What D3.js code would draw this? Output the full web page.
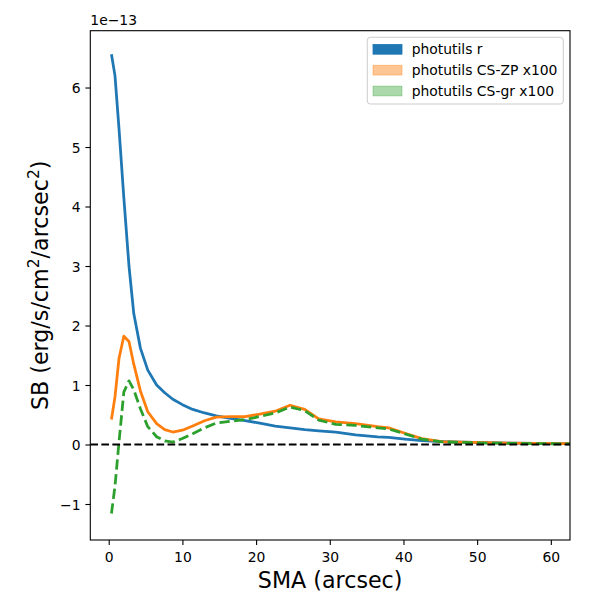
<!DOCTYPE html>
<html><head><meta charset="utf-8">
<script src="https://cdn.jsdelivr.net/npm/d3@7"></script>
<style>body{margin:0;background:#fff}svg{font-family:"DejaVu Sans",sans-serif}</style>
</head><body><svg id="c" width="600" height="600"></svg>
<script>
// SB values in units of 1e-13 erg/s/cm^2/arcsec^2
const sma = [0.37,0.85,1.4,2.05,2.75,3.4,4.3,5.3,6.5,7.6,8.7,10.0,11.4,13.0,14.6,16.5,18.5,20.5,22.6,24.6,26.6,28.5,30.8,33.5,36.5,38.0,40.2,42.5,45.2,48,51,54.5,58,62.6];
const sbR = [6.56,6.2,5.3,4.15,3.0,2.2,1.62,1.25,1.0,0.87,0.76,0.67,0.59,0.53,0.48,0.44,0.40,0.36,0.31,0.28,0.25,0.23,0.21,0.16,0.13,0.12,0.09,0.065,0.05,0.04,0.03,0.025,0.02,0.015];
const sbZP = [0.42,0.8,1.45,1.82,1.73,1.35,0.9,0.55,0.35,0.25,0.21,0.24,0.31,0.4,0.46,0.47,0.47,0.51,0.56,0.66,0.59,0.43,0.38,0.35,0.30,0.28,0.19,0.10,0.05,0.04,0.03,0.025,0.02,0.015];
const sbGR = [-1.16,-0.7,0.05,0.88,1.07,0.92,0.6,0.3,0.13,0.06,0.04,0.1,0.18,0.28,0.36,0.39,0.42,0.47,0.53,0.63,0.57,0.41,0.34,0.32,0.28,0.26,0.18,0.09,0.045,0.035,0.025,0.02,0.015,0.01];
const xTicks = [0,10,20,30,40,50,60];
const yTicks = [-1,0,1,2,3,4,5,6];
const legendLabels = ["photutils r","photutils CS-ZP x100","photutils CS-gr x100"];

const L=90.3,R=570,T=30.7,B=540;
const svg=d3.select("#c");
const x=d3.scaleLinear().domain([-2.5,62.6]).range([L,R]);
const y=d3.scaleLinear().domain([-1.605,6.955]).range([B,T]);

svg.append("defs").append("clipPath").attr("id","clip").append("rect")
  .attr("x",L).attr("y",T).attr("width",R-L).attr("height",B-T);
const g=svg.append("g").attr("clip-path","url(#clip)");
const line=(vals)=>d3.line().x((d,i)=>x(sma[i])).y(d=>y(d))(vals);

g.append("path").attr("d",line(sbR)).attr("fill","none").attr("stroke","#1f77b4").attr("stroke-width",2.78).attr("stroke-linejoin","round");
g.append("path").attr("d",line(sbZP)).attr("fill","none").attr("stroke","#ff7f0e").attr("stroke-width",2.78).attr("stroke-linejoin","round");
g.append("path").attr("d",line(sbGR)).attr("fill","none").attr("stroke","#2ca02c").attr("stroke-width",2.78).attr("stroke-linejoin","round").attr("stroke-dasharray","10.3,4.45");
g.append("line").attr("x1",L).attr("x2",R).attr("y1",y(0)).attr("y2",y(0)).attr("stroke","#000").attr("stroke-width",2.08).attr("stroke-dasharray","7.7,3.33");

// axes
const xa=svg.append("g").attr("transform",`translate(0,${B})`)
  .call(d3.axisBottom(x).tickValues(xTicks).tickSize(4.9).tickPadding(4.5).tickFormat(d3.format("d")));
const ya=svg.append("g").attr("transform",`translate(${L},0)`)
  .call(d3.axisLeft(y).tickValues(yTicks).tickSize(4.9).tickPadding(4.9).tickFormat(d3.format("d")));
[xa,ya].forEach(a=>{a.select(".domain").remove();a.selectAll("line").attr("stroke","#000").attr("stroke-width",1.1);
  a.selectAll("text").attr("font-size","13.9px").attr("font-family","DejaVu Sans").attr("fill","#000");});
xa.selectAll("text").attr("dy",null).attr("y",21.7);
ya.selectAll("text").attr("dy","0.36em");
svg.append("rect").attr("x",L).attr("y",T).attr("width",R-L).attr("height",B-T)
  .attr("fill","none").attr("stroke","#000").attr("stroke-width",1.1);

svg.append("text").attr("x",L).attr("y",25).attr("font-size","13.9px").text("1e\u221213");

svg.append("text").attr("x",(L+R)/2).attr("y",587.7).attr("text-anchor","middle").attr("font-size","22.2px").text("SMA (arcsec)");

const yl=svg.append("text").attr("transform",`translate(48,${(T+B)/2}) rotate(-90)`).attr("text-anchor","middle").attr("font-size","22.2px");
yl.append("tspan").text("SB (erg/s/cm");
yl.append("tspan").attr("font-size","15.5px").attr("dy","-9").text("2");
yl.append("tspan").attr("dy","9").text("/arcsec");
yl.append("tspan").attr("font-size","15.5px").attr("dy","-9").text("2");
yl.append("tspan").attr("dy","9").text(")");

// legend
const lg=svg.append("g");
lg.append("rect").attr("x",367.3).attr("y",37.3).attr("width",196).attr("height",66.7).attr("rx",3)
  .attr("fill","#fff").attr("fill-opacity",0.8).attr("stroke","#cccccc").attr("stroke-width",1);
const lcol=[["#1f77b4",1],["#ff7f0e",0.45],["#2ca02c",0.4]];
legendLabels.forEach((t,i)=>{
  const cy=49.3+i*20.85;
  lg.append("rect").attr("x",373).attr("y",cy-4.9).attr("width",29).attr("height",9.8)
    .attr("fill",lcol[i][0]).attr("fill-opacity",lcol[i][1])
    .attr("stroke",lcol[i][0]).attr("stroke-opacity",lcol[i][1]).attr("stroke-width",0.8);
  lg.append("text").attr("x",411.7).attr("y",cy+5).attr("font-size","13.9px").text(t);
});
</script></body></html>
